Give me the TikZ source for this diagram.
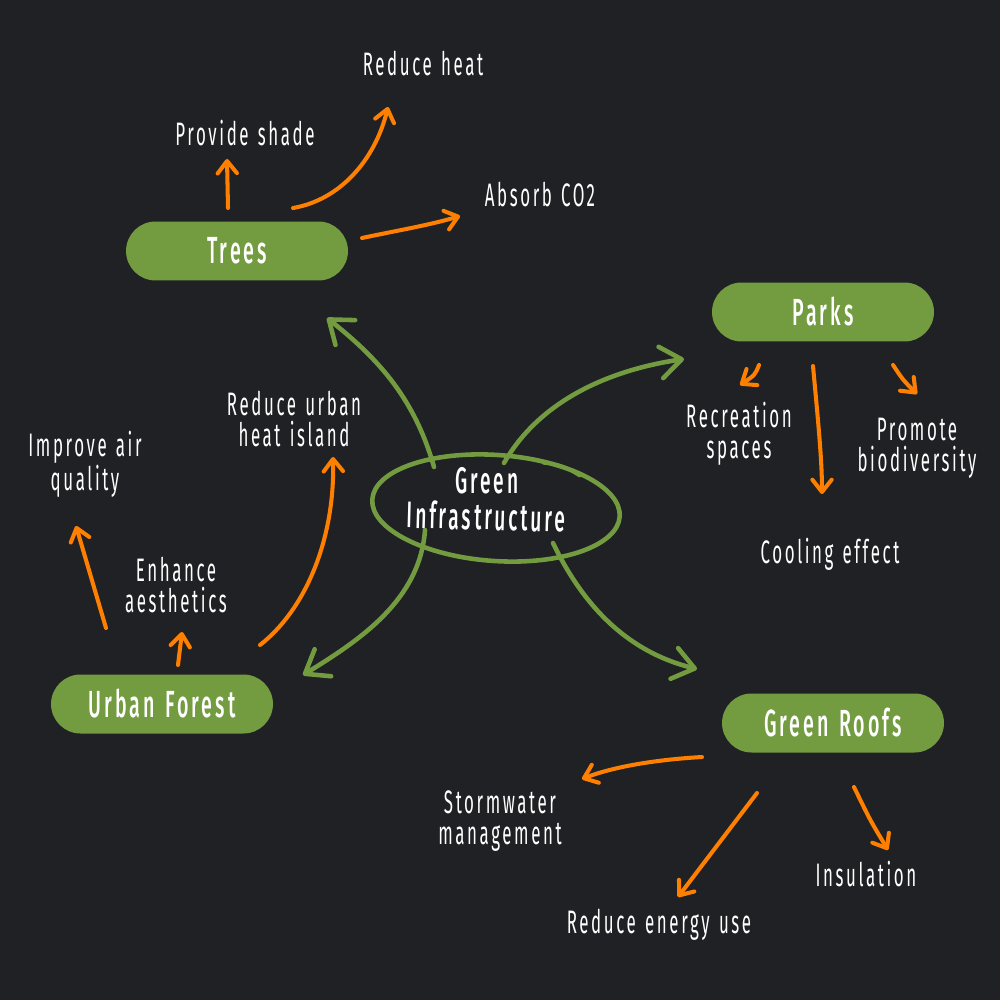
\documentclass[tikz,border=0pt]{standalone}
\usepackage{fontspec}
\setmainfont{Fira Sans}[BoldFont=Fira Sans Medium,FakeStretch=0.52,LetterSpace=8,WordSpace=1.3]
\usetikzlibrary{arrows.meta}
\definecolor{bgc}{HTML}{202124}
\definecolor{leaf}{HTML}{739C41}
\definecolor{orng}{HTML}{FF7F00}
\tikzset{
  pill/.style={fill=leaf, rounded corners=0.59cm, minimum width=4.44cm, minimum height=1.18cm, text=white, font=\fontsize{21.5}{24}\selectfont\bfseries, inner sep=0pt},
  lbl/.style={text=white, align=center, font=\fontsize{18.5}{17.6}\selectfont, inner sep=0pt},
  ctr/.style={text=white, font=\fontsize{21}{21.5}\selectfont\bfseries, inner sep=0pt},
  oarr/.style={draw=orng, line width=2.3pt, line cap=round, -{Straight Barb[round,length=7pt,width=11pt]}},
  garr/.style={draw=leaf, line width=2.6pt, line cap=round, -{Straight Barb[round,length=12pt,width=18pt]}},
}
\begin{document}
\begin{tikzpicture}[x=0.02cm,y=-0.02cm]
\fill[bgc] (0,0) rectangle (1000,1000);
\useasboundingbox (0,0) rectangle (1000,1000);

% main nodes
\node[pill] (trees) at (237,251) {Trees};
\node[pill] (parks) at (823,312) {Parks};
\node[pill] (forest) at (162,704) {Urban Forest};
\node[pill] (roofs) at (833,723) {Green Roofs};

% centre
\coordinate (gi) at (496,508);
\draw[leaf, line width=2.6pt, rotate around={-4:(gi)}] (gi) ellipse [x radius=124, y radius=53];
\draw[leaf, line width=1.8pt, line cap=round] (543,463) .. controls (562,465) .. (580,476);
\node[ctr, anchor=base] (gitext1) at (487,493) {Green};
\node[ctr, anchor=base, rotate=-1.5] (gitext2) at (486,530) {Infrastructure};

% labels
\node[lbl] (heat) at (423,64) {Reduce heat};
\node[lbl] (shade) at (245,133) {Provide shade};
\node[lbl] (co2) at (540,195) {Absorb CO2};
\node[lbl] (recr) at (739,434) {Recreation\\spaces};
\node[lbl] (bio) at (917,448) {Promote\\biodiversity};
\node[lbl] (cool) at (830,554) {Cooling effect};
\node[lbl] (uhi) at (294,419) {Reduce urban\\heat island};
\node[lbl] (air) at (85,464) {Improve air\\quality};
\node[lbl] (aes) at (176,585) {Enhance\\aesthetics};
\node[lbl] (storm) at (500,821) {Stormwater\\management};
\node[lbl] (insul) at (866,874) {Insulation};
\node[lbl] (energy) at (659,925) {Reduce energy use};

% connector endpoints
\coordinate (tS1) at (228,208); \coordinate (tE1) at (227,159);
\coordinate (tS2) at (293,208); \coordinate (tE2) at (388,107);
\coordinate (tS3) at (362,238); \coordinate (tE3) at (460,216);
\coordinate (pS1) at (759,365); \coordinate (pE1) at (740,385);
\coordinate (pS2) at (813,366); \coordinate (pE2) at (822,494);
\coordinate (pS3) at (893,365); \coordinate (pE3) at (917,394);
\coordinate (fS1) at (106,628); \coordinate (fE1) at (76,526);
\coordinate (fS2) at (178,665); \coordinate (fE2) at (182,632);
\coordinate (fS3) at (260,645); \coordinate (fE3) at (333,457);
\coordinate (rS1) at (702,757); \coordinate (rE1) at (582,779);
\coordinate (rS2) at (757,793); \coordinate (rE2) at (678,897);
\coordinate (rS3) at (854,787); \coordinate (rE3) at (888,850);

% orange connectors
\draw[oarr] (tS1) -- (tE1);
\draw[oarr] (tS2) .. controls (340,200) and (375,160) .. (tE2);
\draw[oarr] (tS3) .. controls (400,230) and (430,225) .. (tE3);
\draw[oarr] (pS1) .. controls (755,375) .. (pE1);
\draw[oarr] (pS2) .. controls (818,420) and (822,460) .. (pE2);
\draw[oarr] (pS3) .. controls (903,380) .. (pE3);
\draw[oarr] (fS1) -- (fE1);
\draw[oarr] (fS2) -- (fE2);
\draw[oarr] (fS3) .. controls (305,610) and (335,540) .. (fE3);
\draw[oarr] (rS1) .. controls (650,760) and (610,768) .. (rE1);
\draw[oarr] (rS2) -- (rE2);
\draw[oarr] (rS3) .. controls (870,820) .. (rE3);

% green connectors
\coordinate (gA) at (434,467); \coordinate (gAe) at (327,318);
\coordinate (gB) at (504,463); \coordinate (gBe) at (684,359);
\coordinate (gC) at (425,530); \coordinate (gCe) at (303,675);
\coordinate (gD) at (553,543); \coordinate (gDe) at (697,669);
\draw[garr] (gA) .. controls (415,400) and (380,360) .. (gAe);
\draw[garr] (gB) .. controls (540,400) and (610,370) .. (gBe);
\draw[garr] (gC) .. controls (420,600) and (360,640) .. (gCe);
\draw[garr] (gD) .. controls (590,620) and (640,655) .. (gDe);
\end{tikzpicture}
\end{document}
